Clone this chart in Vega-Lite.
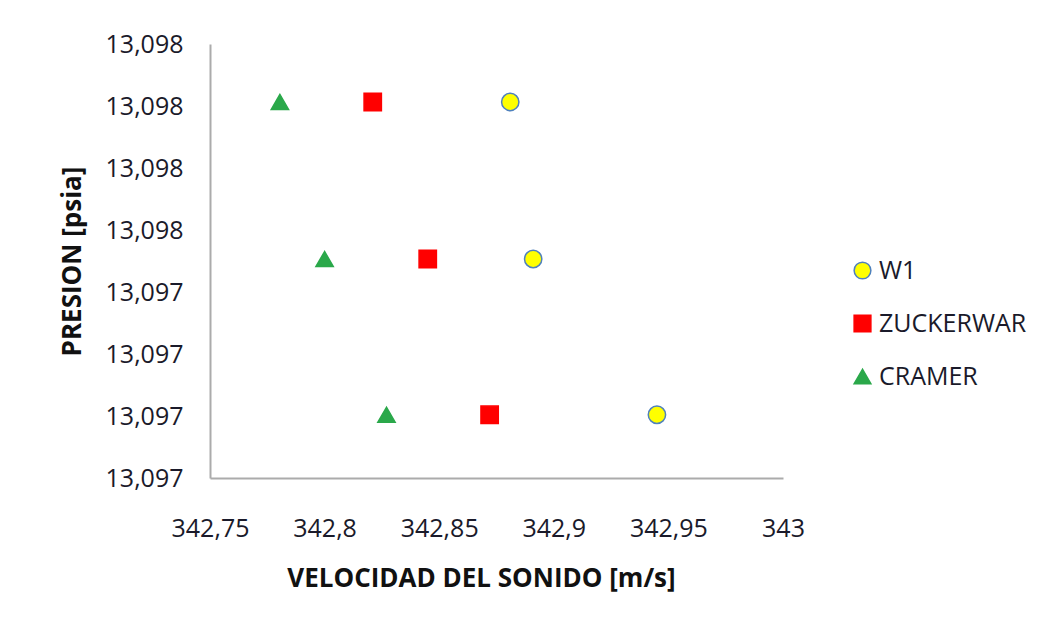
{
  "$schema": "https://vega.github.io/schema/vega-lite/v6.json",
  "width": 573,
  "height": 434,
  "autosize": {"type": "none"},
  "padding": {"left": 210, "top": 44, "right": 270, "bottom": 155},
  "background": "white",
  "config": {
    "view": {"stroke": null},
    "font": "Open Sans",
    "axis": {"grid": false, "ticks": false, "domainColor": "#ababab", "domainWidth": 2, "labelFont": "Open Sans", "labelFontSize": 25, "labelColor": "#1a1a2a", "titleFont": "Open Sans", "titleFontSize": 26, "titleFontWeight": "bold", "titleColor": "#111111"}
  },
  "data": {
    "values": [
      {"serie": "W1", "v": 342.881, "p": 13.0977065},
      {"serie": "W1", "v": 342.891, "p": 13.0974532},
      {"serie": "W1", "v": 342.945, "p": 13.097202},
      {"serie": "ZUCKERWAR", "v": 342.821, "p": 13.0977065},
      {"serie": "ZUCKERWAR", "v": 342.845, "p": 13.0974532},
      {"serie": "ZUCKERWAR", "v": 342.872, "p": 13.097202},
      {"serie": "CRAMER", "v": 342.7805, "p": 13.0977065},
      {"serie": "CRAMER", "v": 342.8, "p": 13.0974532},
      {"serie": "CRAMER", "v": 342.827, "p": 13.097202}
    ]
  },
  "mark": {"type": "point", "filled": true, "strokeWidth": 1.5, "opacity": 1},
  "encoding": {
    "x": {
      "field": "v", "type": "quantitative",
      "scale": {"domain": [342.75, 343], "zero": false, "nice": false},
      "axis": {"values": [342.75, 342.8, 342.85, 342.9, 342.95, 343], "labelExpr": "replace(format(datum.value, '.2~f'), '.', ',')", "labelFlush": false, "labelPadding": 38, "title": "VELOCIDAD DEL SONIDO [m/s]", "titleX": 271, "titleY": 100, "titleAnchor": "middle", "titleAlign": "center", "titleBaseline": "middle"}
    },
    "y": {
      "field": "p", "type": "quantitative",
      "scale": {"domain": [13.0971, 13.0978], "zero": false, "nice": false},
      "axis": {"values": [13.0971, 13.0972, 13.0973, 13.0974, 13.0975, 13.0976, 13.0977, 13.0978], "labelExpr": "replace(format(datum.value, '.3f'), '.', ',')", "labelPadding": 27, "title": "PRESION [psia]", "titleX": -138, "titleY": 217, "titleAngle": -90, "titleAlign": "center", "titleBaseline": "middle"}
    },
    "shape": {
      "field": "serie", "type": "nominal",
      "scale": {"domain": ["W1", "ZUCKERWAR", "CRAMER"], "range": ["circle", "square", "triangle-up"]},
      "legend": {"title": null, "orient": "none", "legendX": 640, "legendY": 214, "labelFont": "Open Sans", "labelFontSize": 25, "labelColor": "#1a1a2a", "rowPadding": 27, "symbolSize": 280, "labelOffset": 4}
    },
    "fill": {
      "field": "serie", "type": "nominal",
      "scale": {"domain": ["W1", "ZUCKERWAR", "CRAMER"], "range": ["#ffff00", "#ff0000", "#2aa84a"]},
      "legend": null
    },
    "stroke": {
      "field": "serie", "type": "nominal",
      "scale": {"domain": ["W1", "ZUCKERWAR", "CRAMER"], "range": ["#4f81bd", "#ff0000", "#2aa84a"]},
      "legend": null
    },
    "size": {"value": 300}
  }
}
